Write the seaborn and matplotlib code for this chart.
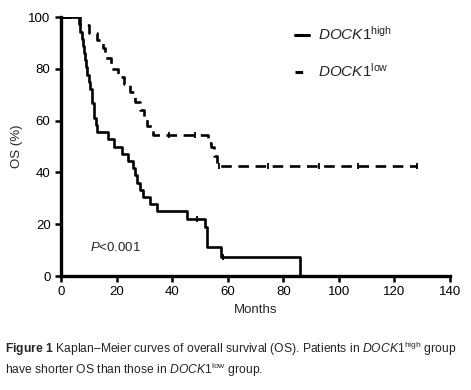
import matplotlib
matplotlib.use("Agg")
import matplotlib.pyplot as plt
import seaborn as sns
import pandas as pd
from matplotlib.lines import Line2D

# step times (months) and survival (%) after each step
high_t = [0, 6.5, 7.0, 7.5, 8.0, 8.3, 8.7, 9.0, 9.5, 10.0, 10.5, 11.0, 11.3, 11.7, 12.0,
          12.5, 13.0, 17.0, 19.0, 22.0, 24.0, 26.0, 26.5, 27.5, 28.5, 29.5, 32.0, 34.5,
          45.5, 52.0, 52.5, 57.5, 86.0]
high_s = [100, 97.2, 94.4, 91.7, 88.9, 86.1, 83.3, 80.6, 77.8, 75.0, 72.2, 69.4, 66.7, 63.9, 61.1,
          58.3, 55.6, 52.8, 50.0, 47.2, 44.4, 41.7, 38.9, 36.1, 33.3, 30.6, 27.8, 25.0,
          22.2, 19.0, 11.3, 7.5, 0]
low_t = [0, 7.0, 10.0, 13.0, 15.0, 16.0, 18.0, 20.5, 22.5, 25.0, 26.5, 28.5, 30.0, 31.0,
         33.0, 53.0, 54.0, 55.0, 56.0, 128.0]
low_s = [100, 97, 94, 91, 88, 84, 80, 77, 74, 71, 67, 64, 61, 58,
         54.5, 51.5, 50, 46.5, 42.5, 42.5]

# censored observations
high_cens_t = [48.8, 58.3]
high_cens_s = [22.2, 7.5]
low_cens_t = [39.0, 48.2, 57.0, 74.5, 93.0, 107.0, 128.0]
low_cens_s = [54.5, 54.5, 42.5, 42.5, 42.5, 42.5, 42.5]

sns.set_style("ticks")
plt.rcParams["font.family"] = ["Liberation Sans", "DejaVu Sans"]
plt.rcParams["mathtext.fontset"] = "custom"
plt.rcParams["mathtext.rm"] = "Liberation Sans"
plt.rcParams["mathtext.it"] = "Liberation Sans:italic"
plt.rcParams["mathtext.bf"] = "Liberation Sans:bold"

df = pd.concat([
    pd.DataFrame({"Months": high_t, "OS": high_s, "group": "high"}),
    pd.DataFrame({"Months": low_t, "OS": low_s, "group": "low"}),
])

fig = plt.figure(figsize=(4.71, 3.90), dpi=100)
ax = fig.add_axes([0.1295, 0.2923, 0.826, 0.664])

sns.lineplot(data=df, x="Months", y="OS", style="group", dashes={"high": "", "low": (4, 2.5)},
             color="black", linewidth=1.9, drawstyle="steps-post", estimator=None,
             sort=False, legend=False, ax=ax)
ax.plot(high_cens_t, high_cens_s, ls="none", marker="|", color="black", ms=4, mew=1.3)
ax.plot(low_cens_t, low_cens_s, ls="none", marker="|", color="black", ms=4, mew=1.3)

ax.set_xlim(0, 140)
ax.set_ylim(0, 100)
ax.set_xticks(range(0, 141, 20))
ax.set_yticks(range(0, 101, 20))
ax.tick_params(width=1.8, length=4, labelsize=9.5, color="black", labelcolor="black")
for s in ["left", "bottom"]:
    ax.spines[s].set_linewidth(2.4)
    ax.spines[s].set_color("black")
sns.despine(ax=ax)
ax.set_xlabel("Months", fontsize=9.5)
ax.set_ylabel("OS (%)", fontsize=9.5)
ax.margins(0)

ax.text(10.4, 11, r"$\it{P}$<0.001", fontsize=9.5, va="center")

handles = [Line2D([], [], color="black", lw=2.2),
           Line2D([], [], color="black", lw=2.2, dashes=(2.5, 2.5))]
labels = [r"$\mathit{DOCK1}^{\mathrm{high}}$", r"$\mathit{DOCK1}^{\mathrm{low}}$"]
ax.legend(handles, labels, loc="upper left", bbox_to_anchor=(0.567, 1.022), frameon=False,
          fontsize=11, handlelength=0.9, labelspacing=1.25, handletextpad=0.6)

fig.text(0.01, 0.105, r"$\bf{Figure\ 1}$ Kaplan–Meier curves of overall survival (OS). Patients in "
         r"$\it{DOCK1}^{\rm high}$ group", fontsize=8.7, va="center")
fig.text(0.01, 0.052, r"have shorter OS than those in $\it{DOCK1}^{\rm low}$ group.",
         fontsize=8.7, va="center")

fig.savefig("out.png", dpi=100)
